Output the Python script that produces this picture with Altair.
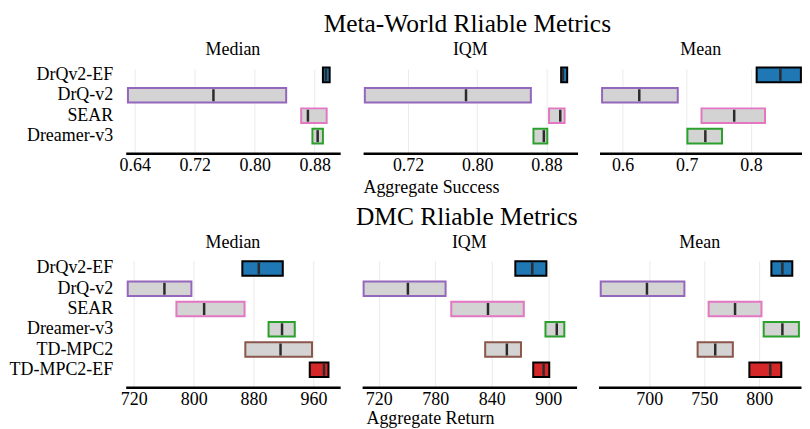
import altair as alt
import pandas as pd

FONT = "Liberation Serif"

# ---------------- data ----------------
MW_ALGOS = ["DrQv2-EF", "DrQ-v2", "SEAR", "Dreamer-v3"]
DMC_ALGOS = ["DrQv2-EF", "DrQ-v2", "SEAR", "Dreamer-v3", "TD-MPC2", "TD-MPC2-EF"]

# Meta-World (aggregate success): low / point / high per algorithm
MW_MEDIAN_LOW = [0.891, 0.631, 0.862, 0.877]
MW_MEDIAN_MID = [0.895, 0.745, 0.871, 0.884]
MW_MEDIAN_HIGH = [0.900, 0.842, 0.896, 0.891]

MW_IQM_LOW = [0.897, 0.670, 0.883, 0.865]
MW_IQM_MID = [0.899, 0.787, 0.896, 0.877]
MW_IQM_HIGH = [0.904, 0.862, 0.901, 0.881]

MW_MEAN_LOW = [0.809, 0.568, 0.723, 0.701]
MW_MEAN_MID = [0.846, 0.626, 0.774, 0.729]
MW_MEAN_HIGH = [0.878, 0.686, 0.822, 0.755]

# DMC (aggregate return)
DMC_MEDIAN_LOW = [865, 712, 777, 900, 869, 955]
DMC_MEDIAN_MID = [887, 761, 814, 918, 916, 974]
DMC_MEDIAN_HIGH = [919, 797, 868, 935, 958, 980]

DMC_IQM_LOW = [865, 704, 797, 897, 833, 884]
DMC_IQM_MID = [883, 751, 836, 909, 856, 895]
DMC_IQM_HIGH = [898, 791, 874, 917, 871, 901]

DMC_MEAN_LOW = [811, 656, 754, 804, 744, 791]
DMC_MEAN_MID = [821, 698, 778, 821, 760, 810]
DMC_MEAN_HIGH = [830, 732, 802, 836, 776, 820]

ALL_ALGOS = DMC_ALGOS
FILLS = ["#1f77b4", "#d3d3d3", "#d3d3d3", "#d3d3d3", "#d3d3d3", "#d62728"]
STROKES = ["#000000", "#9467bd", "#e377c2", "#2ca02c", "#8c564b", "#000000"]

MW_MEDIAN_TICKS = [0.64, 0.72, 0.80, 0.88]
MW_IQM_TICKS = [0.72, 0.80, 0.88]
MW_MEAN_TICKS = [0.6, 0.7, 0.8]
DMC_MEDIAN_TICKS = [720, 800, 880, 960]
DMC_IQM_TICKS = [720, 780, 840, 900]
DMC_MEAN_TICKS = [700, 750, 800]


def frame(algos, low, mid, high):
    return pd.DataFrame({"algo": algos, "low": low, "mid": mid, "high": high})


def panel(df, title, domain, ticks, fmt, algos, width, height, band_len, pin, pout,
          show_y, xtitle, title_y=25):
    yscale = alt.Scale(domain=algos, paddingInner=pin, paddingOuter=pout,
                       range=[0, band_len])
    if show_y:
        yaxis = alt.Axis(title="", ticks=False, domain=False, grid=False,
                         labelFont=FONT, labelFontSize=18, labelColor="black",
                         labelPadding=13, minExtent=117, maxExtent=117)
        y = alt.Y("algo:N", sort=algos, scale=yscale, axis=yaxis)
    else:
        y = alt.Y("algo:N", sort=algos, scale=yscale, axis=None)

    axis_kw = dict(values=ticks, format=fmt, grid=True, gridColor="#ebebeb",
                   gridWidth=1, ticks=False, tickSize=0, domain=True,
                   domainColor="black", domainWidth=2.5, labelFont=FONT,
                   labelFontSize=18, labelColor="black", labelPadding=3,
                   titleFont=FONT, titleFontSize=18, titleFontWeight="normal",
                   titleColor="black", title=xtitle)
    if xtitle:
        axis_kw.update(titleX=68, titleAlign="center", titleY=title_y,
                       titleBaseline="top")
    xaxis = alt.Axis(**axis_kw)
    xscale = alt.Scale(domain=domain, nice=False, zero=False)

    base = alt.Chart(df)
    bars = base.mark_bar(strokeWidth=2, opacity=1).encode(
        x=alt.X("low:Q", scale=xscale, axis=xaxis),
        x2="high:Q",
        y=y,
        fill=alt.Fill("algo:N", scale=alt.Scale(domain=ALL_ALGOS, range=FILLS), legend=None),
        stroke=alt.Stroke("algo:N", scale=alt.Scale(domain=ALL_ALGOS, range=STROKES), legend=None),
    )
    meds = base.mark_tick(color="#2b2b2b", thickness=2.5, size=12, opacity=1).encode(
        x=alt.X("mid:Q", scale=xscale, axis=xaxis),
        y=y,
    )
    return alt.layer(bars, meds).properties(
        width=width, height=height,
        title=alt.TitleParams(title, font=FONT, fontSize=18, fontWeight="normal",
                              color="black", offset=4),
    )


W = [215, 215, 203]

mw = [
    panel(frame(MW_ALGOS, MW_MEDIAN_LOW, MW_MEDIAN_MID, MW_MEDIAN_HIGH), "Median",
          [0.628, 0.914], MW_MEDIAN_TICKS, ".2f", MW_ALGOS, W[0], 90, 84.4, 0.283, 0.2,
          True, ""),
    panel(frame(MW_ALGOS, MW_IQM_LOW, MW_IQM_MID, MW_IQM_HIGH), "IQM",
          [0.668, 0.916], MW_IQM_TICKS, ".2f", MW_ALGOS, W[1], 90, 84.4, 0.283, 0.2,
          False, "Aggregate Success"),
    panel(frame(MW_ALGOS, MW_MEAN_LOW, MW_MEAN_MID, MW_MEAN_HIGH), "Mean",
          [0.564, 0.8797], MW_MEAN_TICKS, ".1f", MW_ALGOS, W[2], 90, 84.4, 0.283, 0.2,
          False, ""),
]

dmc = [
    panel(frame(DMC_ALGOS, DMC_MEDIAN_LOW, DMC_MEDIAN_MID, DMC_MEDIAN_HIGH), "Median",
          [709.3, 995.6], DMC_MEDIAN_TICKS, "d", DMC_ALGOS, W[0], 131.7, 126.8, 0.276, 0.26,
          True, ""),
    panel(frame(DMC_ALGOS, DMC_IQM_LOW, DMC_IQM_MID, DMC_IQM_HIGH), "IQM",
          [702.4, 930], DMC_IQM_TICKS, "d", DMC_ALGOS, W[1], 131.7, 126.8, 0.276, 0.26,
          False, "Aggregate Return", 22),
    panel(frame(DMC_ALGOS, DMC_MEAN_LOW, DMC_MEAN_MID, DMC_MEAN_HIGH), "Mean",
          [654, 837.9], DMC_MEAN_TICKS, "d", DMC_ALGOS, W[2], 131.7, 126.8, 0.276, 0.26,
          False, ""),
]


def row(panels, title, offset):
    return alt.hconcat(*panels, spacing=22).properties(
        title=alt.TitleParams(title, font=FONT, fontSize=25.5, fontWeight="normal",
                              color="black", anchor="middle", dx=62, offset=offset)
    )


chart = alt.vconcat(
    row(mw, "Meta-World Rliable Metrics", 4),
    row(dmc, "DMC Rliable Metrics", 3),
    spacing=9,
).resolve_scale(x="independent", y="independent", fill="shared", stroke="shared"
).configure_view(stroke=None).properties(
    background="white", padding={"top": 3, "left": 0, "right": 0, "bottom": 0})

chart.save("out.html", embed_options={"renderer": "svg", "actions": False})
